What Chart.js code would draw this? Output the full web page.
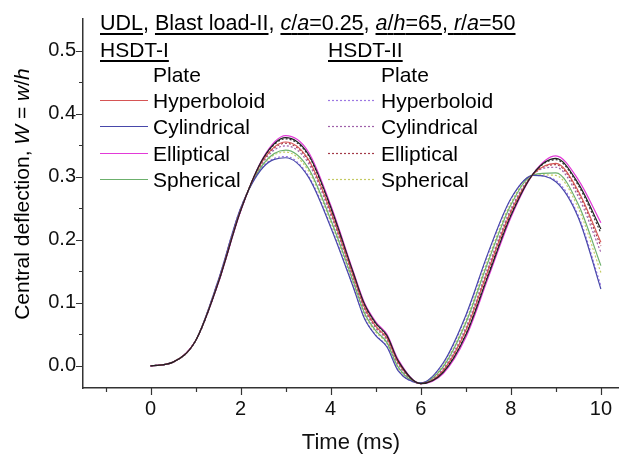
<!DOCTYPE html>
<html lang="en">
<head>
<meta charset="UTF-8">
<title>Central deflection vs time</title>
<script src="https://cdn.jsdelivr.net/npm/chart.js"></script>
<style>
  body { margin: 0; background: #fff; font-family: 'Liberation Sans', Arial, sans-serif; color: #000; }
  .wrap { position: relative; width: 621px; height: 463px; overflow: hidden; }
  canvas { position: absolute; left: 0; top: 0; }
  .txt { position: absolute; font-size: 21px; line-height: 24px; white-space: nowrap; }
  .title { font-size: 21.5px; }
  .u { text-decoration: underline; text-decoration-thickness: 1.5px; text-underline-offset: 3px; }
  .ytitle { position: absolute; left: -128px; top: 182px; width: 300px; height: 24px; font-size: 21px; line-height: 24px;
            text-align: center; white-space: nowrap; transform: rotate(-90deg); }
</style>
</head>
<body>
<div class="wrap" id="wrap">
  <canvas id="chart" width="621" height="463"></canvas>
  <div class="txt title" style="left:100px; top:11px;">
    <span class="u">UDL</span>, <span class="u">Blast load-II</span>, <span class="u"><i>c</i>/<i>a</i>=0.25</span>, <span class="u"><i>a</i>/<i>h</i>=65</span>,<span class="u"> <i>r</i>/<i>a</i>=50</span>
  </div>
  <div class="txt u" style="left:100px; top:38px;">HSDT-I</div>
  <div class="txt u" style="left:328px; top:38px;">HSDT-II</div>
  <div class="ytitle">Central deflection, <i>W</i> = <i>w</i>/<i>h</i></div>
</div>
<script>
// time axis (ms)
const times = [0, 0.5, 1, 1.5, 2, 2.5, 3, 3.5, 4, 4.5, 4.75, 5, 5.25, 5.5, 6, 6.5, 7, 7.5, 8, 8.5, 9, 9.5, 10];

// HSDT-I
const plateI       = [0, 0.006, 0.04, 0.131, 0.246, 0.329, 0.362, 0.336, 0.252, 0.148, 0.098, 0.068, 0.048, 0.008, -0.028, -0.010, 0.049, 0.144, 0.238, 0.305, 0.329, 0.289, 0.217];
const hyperboloidI = [0, 0.006, 0.04, 0.132, 0.247, 0.326, 0.355, 0.328, 0.245, 0.143, 0.093, 0.063, 0.044, 0.005, -0.028, -0.007, 0.056, 0.152, 0.244, 0.304, 0.321, 0.277, 0.196];
const cylindricalI = [0, 0.006, 0.04, 0.135, 0.250, 0.315, 0.330, 0.300, 0.220, 0.125, 0.075, 0.048, 0.030, -0.008, -0.027, 0.005, 0.080, 0.180, 0.265, 0.302, 0.292, 0.235, 0.122];
const ellipticalI  = [0, 0.006, 0.04, 0.130, 0.245, 0.330, 0.365, 0.340, 0.255, 0.150, 0.100, 0.070, 0.050, 0.010, -0.028, -0.012, 0.045, 0.140, 0.235, 0.305, 0.333, 0.295, 0.227];
const sphericalI   = [0, 0.006, 0.04, 0.133, 0.248, 0.320, 0.342, 0.314, 0.232, 0.134, 0.084, 0.056, 0.037, -0.002, -0.027, -0.001, 0.068, 0.166, 0.255, 0.303, 0.306, 0.256, 0.159];

// HSDT-II
const plateII       = [0, 0.006, 0.04, 0.131, 0.246, 0.328, 0.360, 0.334, 0.250, 0.146, 0.096, 0.067, 0.047, 0.007, -0.028, -0.009, 0.050, 0.146, 0.240, 0.305, 0.327, 0.286, 0.211];
const hyperboloidII = [0, 0.006, 0.04, 0.135, 0.250, 0.316, 0.332, 0.302, 0.222, 0.126, 0.076, 0.049, 0.031, -0.007, -0.027, 0.004, 0.078, 0.178, 0.264, 0.302, 0.294, 0.238, 0.127];
const cylindricalII = [0, 0.006, 0.04, 0.132, 0.247, 0.323, 0.349, 0.322, 0.239, 0.139, 0.089, 0.060, 0.041, 0.002, -0.028, -0.004, 0.061, 0.158, 0.249, 0.304, 0.315, 0.268, 0.180];
const ellipticalII  = [0, 0.006, 0.04, 0.132, 0.247, 0.325, 0.353, 0.326, 0.243, 0.141, 0.091, 0.062, 0.043, 0.004, -0.028, -0.006, 0.057, 0.154, 0.246, 0.304, 0.319, 0.274, 0.190];
const sphericalII   = [0, 0.006, 0.04, 0.134, 0.249, 0.319, 0.339, 0.310, 0.229, 0.131, 0.081, 0.054, 0.035, -0.004, -0.027, 0.001, 0.071, 0.170, 0.258, 0.303, 0.302, 0.250, 0.148];

const shellNames = ['Plate', 'Hyperboloid', 'Cylindrical', 'Elliptical', 'Spherical'];
const xTicks = [-1, 0, 1, 2, 3, 4, 5, 6, 7, 8, 9, 10];
const yTicks = [0, 0.05, 0.1, 0.15, 0.2, 0.25, 0.3, 0.35, 0.4, 0.45, 0.5];

const groups = [
  { data: [plateI, hyperboloidI, cylindricalI, ellipticalI, sphericalI],
    colors: ['#222222', '#d65555', '#4848aa', '#e23ad8', '#6cb06c'], dash: [], keyX: 100 },
  { data: [plateII, hyperboloidII, cylindricalII, ellipticalII, sphericalII],
    colors: ['#333333', '#9c78e2', '#a060aa', '#a33a48', '#c4ca62'], dash: [2, 2], keyX: 328 }
];
const rowBase = i => Math.round(81.5 + 26.4 * i);

const datasets = [];
groups.forEach((g, gi) => {
  g.data.forEach((vals, i) => {
    datasets.push({
      label: shellNames[i] + (gi ? ' (HSDT-II)' : ' (HSDT-I)'),
      data: times.map((t, k) => ({ x: t, y: vals[k] })),
      borderColor: g.colors[i],
      borderWidth: 1.2,
      borderDash: g.dash,
      pointRadius: 0,
      fill: false,
      cubicInterpolationMode: 'monotone'
    });
  });
});

// legend labels
const wrap = document.getElementById('wrap');
groups.forEach(g => {
  shellNames.forEach((name, i) => {
    const t = document.createElement('div');
    t.className = 'txt';
    t.style.left = (g.keyX + 53) + 'px';
    t.style.top = (rowBase(i) - 19) + 'px';
    t.textContent = name;
    wrap.appendChild(t);
  });
});

const axisTicks = {
  id: 'axisTicks',
  afterDraw(chart) {
    const { ctx, chartArea, scales: { x, y } } = chart;
    ctx.save();
    ctx.strokeStyle = '#333';
    ctx.lineWidth = 1.2;
    ctx.beginPath();
    xTicks.forEach(v => {
      const px = Math.round(x.getPixelForValue(v)) + 0.5;
      const len = v % 2 === 0 ? 7 : 4;
      ctx.moveTo(px, chartArea.bottom);
      ctx.lineTo(px, chartArea.bottom + len);
    });
    yTicks.forEach((v, i) => {
      const py = Math.round(y.getPixelForValue(v)) + 0.5;
      const len = i % 2 === 0 ? 7 : 4;
      ctx.moveTo(chartArea.left, py);
      ctx.lineTo(chartArea.left - len, py);
    });
    ctx.stroke();

    // legend sample lines (plate sample is not shown)
    ctx.lineWidth = 1.2;
    groups.forEach(g => {
      g.colors.forEach((c, i) => {
        if (i === 0) return;
        const yy = rowBase(i) - 8 + 0.5;
        ctx.strokeStyle = c;
        ctx.setLineDash(g.dash);
        ctx.beginPath();
        ctx.moveTo(g.keyX, yy);
        ctx.lineTo(g.keyX + 48, yy);
        ctx.stroke();
      });
    });
    ctx.restore();
  }
};

const tickFont = { family: "'Liberation Sans', Arial, sans-serif", size: 20 };

new Chart(document.getElementById('chart'), {
  type: 'line',
  data: { datasets },
  plugins: [axisTicks],
  options: {
    responsive: false,
    animation: false,
    layout: { padding: { top: 13, right: 0, left: 0, bottom: 0 } },
    plugins: { legend: { display: false }, tooltip: { enabled: false } },
    scales: {
      x: {
        type: 'linear',
        min: -1.5,
        max: 10.4,
        afterBuildTicks: s => { s.ticks = xTicks.map(v => ({ value: v })); },
        afterFit: s => { s.height = 75; },
        grid: { display: false, drawTicks: false },
        border: { display: true, color: '#333', width: 1.5 },
        ticks: {
          autoSkip: false,
          maxRotation: 0,
          padding: 9,
          color: '#111',
          font: tickFont,
          callback: v => (v % 2 === 0 ? String(v) : '')
        },
        title: {
          display: true,
          text: 'Time (ms)',
          color: '#111',
          font: { family: "'Liberation Sans', Arial, sans-serif", size: 22, lineHeight: 1.2 },
          padding: { top: 0, bottom: 7 }
        }
      },
      y: {
        type: 'linear',
        min: -0.035,
        max: 0.55,
        afterBuildTicks: s => { s.ticks = yTicks.map(v => ({ value: v })); },
        afterFit: s => { s.width = 83; },
        grid: { display: false, drawTicks: false },
        border: { display: true, color: '#333', width: 1.5 },
        ticks: {
          autoSkip: false,
          padding: 7,
          color: '#111',
          font: tickFont,
          callback: (v, i) => (i % 2 === 0 ? v.toFixed(1) : '')
        }
      }
    }
  }
});
</script>
</body>
</html>
